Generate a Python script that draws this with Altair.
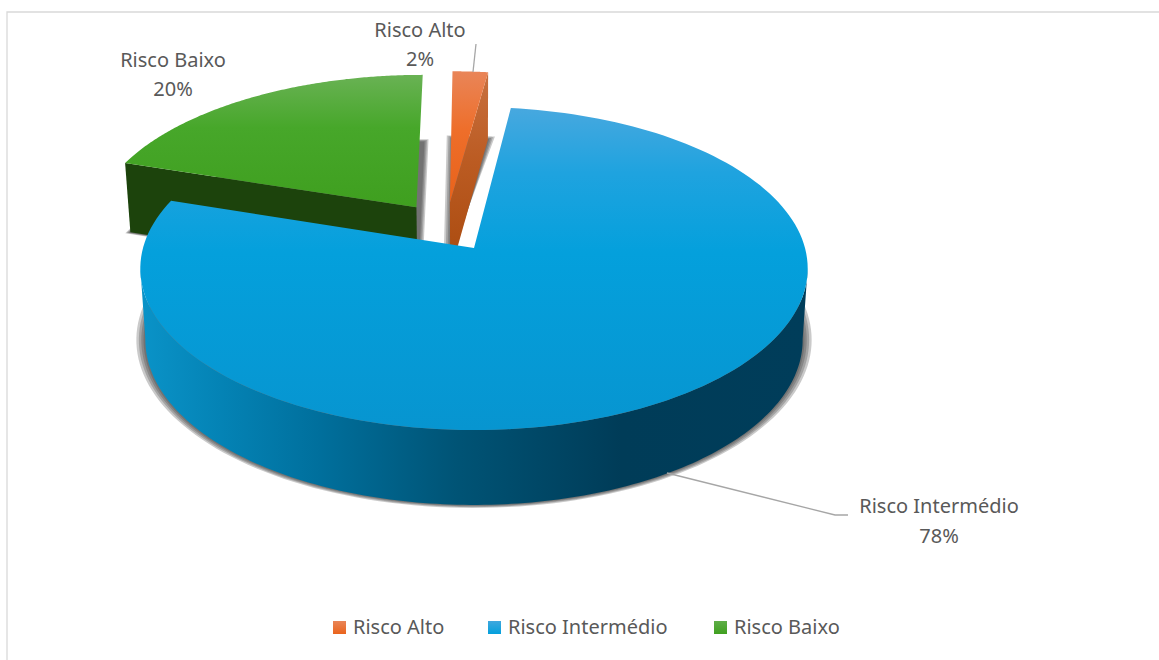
import numpy as np
import pandas as pd
import altair as alt

categories = ["Risco Alto", "Risco Intermédio", "Risco Baixo"]
shares = [2, 78, 20]
share_labels = ["2%", "78%", "20%"]

FONT = "Noto Sans"
TEXT_COLOR = "#595959"
LINE_COLOR = "#a6a6a6"
FRAME_COLOR = "#d9d9d9"

# Perspective model of the tilted disc: plan coordinates (X, Y) map to the page
# through a common homography; the two planes are the top face and the base.
CENTER_X = 474
PERSPECTIVE = 0.127
TOP_PLANE = (331, 248, -127.4)
BASE_PLANE = (326, 319, -121.8)
EXPLODE = 0.16


def vgrad(*stops):
    return {"gradient": "linear", "x1": 0, "y1": 0, "x2": 0, "y2": 1,
            "stops": [{"offset": o, "color": c} for o, c in stops]}


def hgrad(*stops):
    return {"gradient": "linear", "x1": 0, "y1": 0, "x2": 1, "y2": 0,
            "stops": [{"offset": o, "color": c} for o, c in stops]}


def project(px, py, plane):
    scale_x, offset, slope = plane
    w = 1 / (1 + PERSPECTIVE * np.asarray(py, dtype=float))
    return CENTER_X + scale_x * np.asarray(px, dtype=float) * w, (offset + slope * np.asarray(py, dtype=float)) * w


# Slice angles come straight from the shares, clockwise from twelve o'clock.
edges = np.radians(np.cumsum([0] + shares) * 3.6)
spans = {c: (edges[i], edges[i + 1]) for i, c in enumerate(categories)}
mids = {c: (a + b) / 2 for c, (a, b) in spans.items()}
blue_mid = mids["Risco Intermédio"]
origin = (-EXPLODE * np.sin(blue_mid), -EXPLODE * np.cos(blue_mid))
apexes = {c: (origin[0] + EXPLODE * np.sin(m), origin[1] + EXPLODE * np.cos(m)) for c, m in mids.items()}


def arc(cat, t0, t1, plane, n=160):
    ts = np.linspace(t0, t1, n)
    ax, ay = apexes[cat]
    return project(ax + np.sin(ts), ay + np.cos(ts), plane)


def apex(cat, plane):
    ax, ay = apexes[cat]
    x, y = project([ax], [ay], plane)
    return x, y


def sector(cat, plane):
    t0, t1 = spans[cat]
    ax_, ay_ = apex(cat, plane)
    x, y = arc(cat, t0, t1, plane)
    return np.r_[ax_, x], np.r_[ay_, y]


X_SCALE = alt.Scale(domain=[0, 1159], nice=False, zero=False)
Y_SCALE = alt.Scale(domain=[660, 0], nice=False, zero=False)
X_ENC = alt.X("x:Q", scale=X_SCALE, axis=None)
Y_ENC = alt.Y("y:Q", scale=Y_SCALE, axis=None)


def face(x, y, fill, opacity=1.0):
    df = pd.DataFrame({"x": np.round(x, 2), "y": np.round(y, 2), "i": np.arange(len(x))})
    return alt.Chart(df).mark_line(
        interpolate="linear-closed", fill=fill, fillOpacity=opacity, strokeWidth=0, stroke="transparent"
    ).encode(x=X_ENC, y=Y_ENC, order="i:Q")


def soft_shadow(cat, grow_x, grow_y):
    # Stacked translucent copies of the base outline give a soft dark edge.
    x, y = sector(cat, BASE_PLANE)
    xc, yc = (x.min() + x.max()) / 2, (y.min() + y.max()) / 2
    hw, hh = (x.max() - x.min()) / 2, (y.max() - y.min()) / 2
    out = []
    for step in (1.0, 0.72, 0.45, 0.2):
        sx = (hw + grow_x * step) / hw
        sy = (hh + grow_y * step) / hh
        out.append(face(xc + (x - xc) * sx, yc + (y - yc) * sy, "#3a3a3a", 0.27))
    return out


def polyline(points, color=LINE_COLOR):
    df = pd.DataFrame({"x": [p[0] for p in points], "y": [p[1] for p in points], "i": range(len(points))})
    return alt.Chart(df).mark_line(color=color, strokeWidth=1.3).encode(x=X_ENC, y=Y_ENC, order="i:Q")


def text_layer(rows, align, size=20):
    df = pd.DataFrame(rows, columns=["x", "y", "t"])
    return alt.Chart(df).mark_text(
        font=FONT, fontSize=size, color=TEXT_COLOR, align=align, baseline="middle"
    ).encode(x=X_ENC, y=Y_ENC, text="t:N")


layers = []

# Chart frame: only the top and left borders show
layers.append(polyline([(7, 660), (7, 12), (1159, 12)], FRAME_COLOR))

alto, inter, baixo = categories

layers += soft_shadow(baixo, 5, 3)
layers += soft_shadow(alto, 7, 3)
layers += soft_shadow(inter, 9, 3)

# Green slice: cut face, then top
t0, t1 = spans[baixo]
cx_top, cy_top = arc(baixo, t0, t0, TOP_PLANE, 1)
cx_base, cy_base = arc(baixo, t0, t0, BASE_PLANE, 1)
ax_top, ay_top = apex(baixo, TOP_PLANE)
ax_base, ay_base = apex(baixo, BASE_PLANE)
layers.append(face(np.r_[cx_top, ax_top, ax_base, cx_base], np.r_[cy_top, ay_top, ay_base, cy_base], "#1c430c"))
layers.append(face(*sector(baixo, TOP_PLANE),
                   vgrad((0, "#69b254"), (0.4, "#47a72a"), (1, "#3f9f1f"))))

# Orange slice: cut face, then top
t0, t1 = spans[alto]
cx_top, cy_top = arc(alto, t1, t1, TOP_PLANE, 1)
cx_base, cy_base = arc(alto, t1, t1, BASE_PLANE, 1)
ax_top, ay_top = apex(alto, TOP_PLANE)
ax_base, ay_base = apex(alto, BASE_PLANE)
layers.append(face(np.r_[cx_top, ax_top, ax_base, cx_base], np.r_[cy_top, ay_top, ay_base, cy_base],
                   vgrad((0, "#c8703f"), (0.45, "#bb5b22"), (1, "#a94a0e"))))
layers.append(face(*sector(alto, TOP_PLANE),
                   vgrad((0, "#e98558"), (0.45, "#ee6e2a"), (1, "#e8621a"))))

# Blue slice: curved wall between the two silhouette tangents, then top
tx, ty = arc(inter, np.radians(97), np.radians(263), TOP_PLANE)
bx, by = arc(inter, np.radians(97), np.radians(263), BASE_PLANE)
layers.append(face(np.r_[tx, bx[::-1]], np.r_[ty, by[::-1]],
                   hgrad((0, "#0a93c8"), (0.12, "#0483b5"), (0.27, "#006f9c"), (0.47, "#005476"),
                         (0.72, "#003c58"), (1, "#003d5a"))))
layers.append(face(*sector(inter, TOP_PLANE),
                   vgrad((0, "#47a8df"), (0.2, "#1fa3df"), (0.45, "#04a0dc"), (1, "#0795d0"))))

# Leader lines
layers.append(polyline([(476, 44), (473, 72)]))
layers.append(polyline([(667, 473), (835, 515), (848, 515)]))

# Data labels
layers.append(text_layer([
    (420, 31, alto), (420, 60, share_labels[0]),
    (173, 61, baixo), (173, 90, share_labels[2]),
    (939, 507, inter), (939, 537, share_labels[1]),
], "center"))

# Legend
legend_x = [333, 488, 714]
legend_fills = [
    vgrad((0, "#e98558"), (1, "#ea641c")),
    vgrad((0, "#3fa7de"), (1, "#04a0dc")),
    vgrad((0, "#5fae48"), (1, "#40a020")),
]
for x0, fill in zip(legend_x, legend_fills):
    side = 13
    layers.append(face([x0, x0 + side, x0 + side, x0], [621, 621, 634, 634], fill))
layers.append(text_layer([(x0 + 20, 627.5, c) for x0, c in zip(legend_x, categories)], "left"))

chart = alt.layer(*layers).properties(
    width=1159, height=660, padding=0, background="white",
    autosize=alt.AutoSizeParams(type="none"),
).configure_view(stroke=None)

chart.save("out.html", embed_options={"renderer": "svg", "actions": False})
